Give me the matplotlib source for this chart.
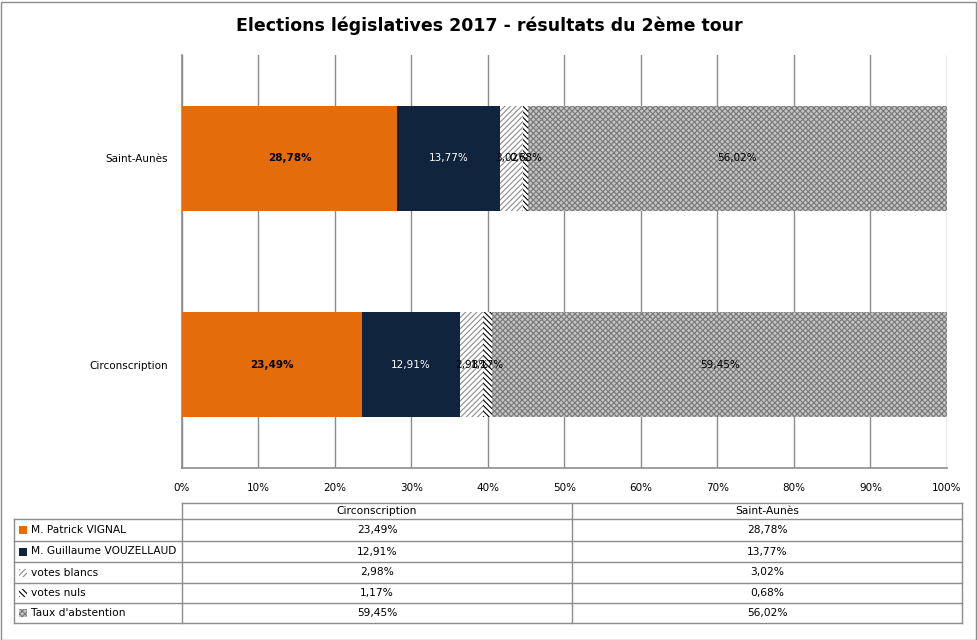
import matplotlib
matplotlib.use("Agg")
import matplotlib.pyplot as plt
from matplotlib.patches import Rectangle
from matplotlib.lines import Line2D
from matplotlib.ticker import FuncFormatter

categories = ["Circonscription", "Saint-Aunès"]
series_names = ["M. Patrick VIGNAL", "M. Guillaume VOUZELLAUD", "votes blancs",
                "votes nuls", "Taux d'abstention"]
vignal = [23.49, 28.78]
vouzellaud = [12.91, 13.77]
blancs = [2.98, 3.02]
nuls = [1.17, 0.68]
abstention = [59.45, 56.02]
series_values = [vignal, vouzellaud, blancs, nuls, abstention]
x_ticks = [0, 10, 20, 30, 40, 50, 60, 70, 80, 90, 100]
title = "Elections législatives 2017 - résultats du 2ème tour"

styles = [
    dict(facecolor="#E46C0A", edgecolor="#E46C0A", hatch=None),
    dict(facecolor="#10243E", edgecolor="#10243E", hatch=None),
    dict(facecolor="white", edgecolor="#8c8c8c", hatch="//////"),
    dict(facecolor="white", edgecolor="black", hatch="\\\\\\\\\\\\"),
    dict(facecolor="#c4c4c4", edgecolor="#787878", hatch="xxxxxx"),
]
label_colors = ["black", "white", "black", "black", "black"]
label_weights = ["bold", "normal", "normal", "normal", "normal"]

plt.rcParams["font.family"] = ["DejaVu Sans"]
plt.rcParams["hatch.linewidth"] = 0.8

W, H = 978, 640
fig = plt.figure(figsize=(W / 100, H / 100), dpi=100)

def px_axes(x0, y0, x1, y1, **kw):
    return fig.add_axes([x0 / W, 1 - y1 / H, (x1 - x0) / W, (y1 - y0) / H], **kw)

def fmt(v):
    return f"{v:.2f}%".replace(".", ",")

# outer border
fig.patches.append(Rectangle((0.5 / W, 0.5 / H), (W - 2) / W, (H - 2) / H,
                             transform=fig.transFigure, fill=False,
                             edgecolor="#8c8c8c", linewidth=1))

fig.text(489 / W, 1 - 26 / H, title, ha="center", va="center",
         fontsize=12.5, fontweight="bold")

ax = px_axes(182, 55, 947, 468)
ax.set_xlim(0, 100)
ax.set_ylim(-0.5, 1.5)
ypos = list(range(len(categories)))
totals = [sum(s[i] for s in series_values) for i in ypos]
left = [0.0] * len(categories)
for vals, st, lc, lw in zip(series_values, styles, label_colors, label_weights):
    widths = [v / t * 100 for v, t in zip(vals, totals)]
    ax.barh(ypos, widths, left=left, height=0.51, facecolor=st["facecolor"],
            edgecolor=st["edgecolor"], hatch=st["hatch"], linewidth=0, zorder=3)
    for i, v in enumerate(vals):
        ax.text(left[i] + widths[i] / 2, ypos[i], fmt(v),
                ha="center", va="center", fontsize=7.5, color=lc,
                fontweight=lw, zorder=5)
    left = [l + w for l, w in zip(left, widths)]

ax.set_xticks(x_ticks)
ax.xaxis.set_major_formatter(FuncFormatter(lambda v, p: f"{int(v)}%"))
ax.tick_params(axis="x", length=0, pad=11, labelsize=7.5)
ax.set_yticks(ypos)
ax.set_yticklabels(categories)
ax.tick_params(axis="y", length=0, pad=10, labelsize=7.5)
ax.grid(axis="x", color="#8c8c8c", linewidth=1, zorder=0)
for s in ["top", "right"]:
    ax.spines[s].set_visible(False)
for s in ["left", "bottom"]:
    ax.spines[s].set_color("#8c8c8c")
    ax.spines[s].set_linewidth(1.2)

# data table
tab = px_axes(0, 0, W, H)
tab.set_xlim(0, W)
tab.set_ylim(H, 0)
tab.axis("off")
c0, c1, c2, c3 = 14, 182, 572, 962
rows_y = [503, 519, 541, 562, 583, 603, 623]
lc = "#8c8c8c"
tab.add_line(Line2D([c1, c3], [rows_y[0], rows_y[0]], color=lc, lw=1))
for y in rows_y[1:]:
    tab.add_line(Line2D([c0, c3], [y, y], color=lc, lw=1))
tab.add_line(Line2D([c0, c0], [rows_y[1], rows_y[-1]], color=lc, lw=1))
for x in (c1, c2, c3):
    tab.add_line(Line2D([x, x], [rows_y[0], rows_y[-1]], color=lc, lw=1))
hy = (rows_y[0] + rows_y[1]) / 2
tab.text((c1 + c2) / 2, hy, categories[0], ha="center", va="center", fontsize=7.7)
tab.text((c2 + c3) / 2, hy, categories[1], ha="center", va="center", fontsize=7.7)
for r, (name, vals, st) in enumerate(zip(series_names, series_values, styles)):
    y = (rows_y[r + 1] + rows_y[r + 2]) / 2
    tab.add_patch(Rectangle((19, y - 4), 8, 8, facecolor=st["facecolor"],
                            edgecolor=st["edgecolor"], hatch=st["hatch"], lw=0))
    tab.text(31, y, name, ha="left", va="center", fontsize=7.7)
    tab.text((c1 + c2) / 2, y, fmt(vals[0]), ha="center", va="center", fontsize=7.7)
    tab.text((c2 + c3) / 2, y, fmt(vals[1]), ha="center", va="center", fontsize=7.7)

fig.savefig("out.png", dpi=100)
